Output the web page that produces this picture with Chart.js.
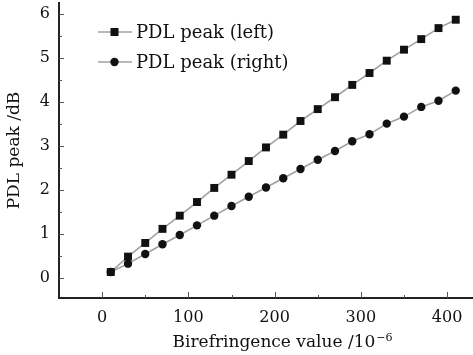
<!DOCTYPE html>
<html>
<head>
<meta charset="utf-8">
<script src="https://cdn.jsdelivr.net/npm/chart.js@4/dist/chart.umd.min.js"></script>
<style>
  html, body { margin: 0; padding: 0; background: #fff; }
  #wrap { width: 473px; height: 355px; }
</style>
</head>
<body>
<div id="wrap"><canvas id="chart" width="473" height="355"></canvas></div>
<script>
// Birefringence values (x 10^-6)
const birefringence = [10, 30, 50, 70, 90, 110, 130, 150, 170, 190, 210,
  230, 250, 270, 290, 310, 330, 350, 370, 390, 410];

// PDL peak (dB) for the left and right peaks
const pdlLeft = [0.14, 0.49, 0.80, 1.12, 1.42, 1.73, 2.05, 2.35, 2.66, 2.97, 3.26,
  3.57, 3.84, 4.11, 4.39, 4.66, 4.94, 5.19, 5.43, 5.68, 5.87];
const pdlRight = [0.14, 0.33, 0.55, 0.77, 0.98, 1.20, 1.42, 1.64, 1.85, 2.06, 2.27,
  2.48, 2.69, 2.89, 3.11, 3.27, 3.51, 3.67, 3.89, 4.03, 4.26];

const xMajorTicks = [0, 100, 200, 300, 400];
const yMajorTicks = [0, 1, 2, 3, 4, 5, 6];

const X_TITLE = 'Birefringence value /10';
const X_TITLE_EXP = '−6';

const FONT = 'DejaVu Serif';
const LINE_COLOR = '#a0a0a0';
const MARK_COLOR = '#111';

function toPoints(xs, ys) {
  return xs.map((x, i) => ({ x, y: ys[i] }));
}

// Small tick marks pointing into the plot area, major and minor
const inwardTicks = {
  id: 'inwardTicks',
  afterDraw(chart) {
    const { ctx, scales: { x, y } } = chart;
    ctx.save();
    ctx.strokeStyle = '#555';
    ctx.lineWidth = 1;
    ctx.beginPath();
    for (let v = -50; v <= 430; v += 50) {
      const px = Math.round(x.getPixelForValue(v)) + 0.5;
      if (px <= x.left + 2) continue;
      const len = v % 100 === 0 ? 6 : 3;
      ctx.moveTo(px, y.bottom);
      ctx.lineTo(px, y.bottom - len);
    }
    for (let v = 0; v <= 6.2; v += 0.5) {
      const py = Math.round(y.getPixelForValue(v)) + 0.5;
      const len = Number.isInteger(v) ? 5 : 3;
      ctx.moveTo(x.left, py);
      ctx.lineTo(x.left + len, py);
    }
    ctx.stroke();
    ctx.restore();
  }
};

// x axis title with a raised exponent
const xTitle = {
  id: 'xTitle',
  afterDraw(chart) {
    const { ctx } = chart;
    ctx.save();
    ctx.fillStyle = '#111';
    ctx.textBaseline = 'alphabetic';
    ctx.textAlign = 'left';
    ctx.font = `17px "${FONT}"`;
    const w1 = ctx.measureText(X_TITLE).width;
    ctx.font = `11px "${FONT}"`;
    const w2 = ctx.measureText(X_TITLE_EXP).width;
    const x0 = 282 - (w1 + w2) / 2;
    ctx.font = `17px "${FONT}"`;
    ctx.fillText(X_TITLE, x0, 347);
    ctx.font = `11px "${FONT}"`;
    ctx.fillText(X_TITLE_EXP, x0 + w1 + 1, 341);
    ctx.restore();
  }
};

// Legend drawn inside the plot: line sample with marker, then label
const innerLegend = {
  id: 'innerLegend',
  afterDraw(chart) {
    const { ctx } = chart;
    const rows = [32, 62];
    ctx.save();
    chart.data.datasets.forEach((ds, i) => {
      const cy = rows[i];
      ctx.strokeStyle = LINE_COLOR;
      ctx.lineWidth = 1.5;
      ctx.beginPath();
      ctx.moveTo(98, cy);
      ctx.lineTo(132, cy);
      ctx.stroke();
      ctx.fillStyle = MARK_COLOR;
      if (ds.pointStyle === 'rect') {
        ctx.fillRect(110.5, cy - 4, 8, 8);
      } else {
        ctx.beginPath();
        ctx.arc(114.5, cy, 4.2, 0, Math.PI * 2);
        ctx.fill();
      }
      ctx.fillStyle = '#111';
      ctx.font = `18px "${FONT}"`;
      ctx.textBaseline = 'middle';
      ctx.textAlign = 'left';
      ctx.fillText(ds.label, 136, cy + 1);
    });
    ctx.restore();
  }
};

new Chart(document.getElementById('chart'), {
  type: 'scatter',
  data: {
    datasets: [
      {
        label: 'PDL peak (left)',
        data: toPoints(birefringence, pdlLeft),
        showLine: true,
        borderColor: LINE_COLOR,
        borderWidth: 1.6,
        pointStyle: 'rect',
        pointRadius: 5.6,
        pointBackgroundColor: MARK_COLOR,
        pointBorderColor: MARK_COLOR,
        pointBorderWidth: 0
      },
      {
        label: 'PDL peak (right)',
        data: toPoints(birefringence, pdlRight),
        showLine: true,
        borderColor: LINE_COLOR,
        borderWidth: 1.6,
        pointStyle: 'circle',
        pointRadius: 4.2,
        pointBackgroundColor: MARK_COLOR,
        pointBorderColor: MARK_COLOR,
        pointBorderWidth: 0
      }
    ]
  },
  options: {
    responsive: false,
    animation: false,
    layout: { autoPadding: false, padding: { top: 3, right: 0, left: 0, bottom: 0 } },
    plugins: {
      legend: { display: false },
      tooltip: { enabled: false }
    },
    scales: {
      x: {
        type: 'linear',
        min: -50,
        max: 430,
        afterBuildTicks(scale) {
          scale.ticks = xMajorTicks.map(v => ({ value: v }));
        },
        afterFit(scale) {
          scale.height = 57;
          scale.paddingLeft = 0;
          scale.paddingRight = 0;
        },
        grid: { display: false, drawTicks: false },
        border: { display: true, color: '#222', width: 2 },
        ticks: {
          color: '#111',
          padding: 10,
          maxRotation: 0,
          font: { family: FONT, size: 16 }
        }
      },
      y: {
        type: 'linear',
        min: -0.45,
        max: 6.25,
        afterBuildTicks(scale) {
          scale.ticks = yMajorTicks.map(v => ({ value: v }));
        },
        afterFit(scale) {
          scale.width = 59;
          scale.paddingTop = 0;
          scale.paddingBottom = 0;
        },
        grid: { display: false, drawTicks: false },
        border: { display: true, color: '#222', width: 2 },
        ticks: {
          color: '#111',
          padding: 9,
          font: { family: FONT, size: 16 }
        },
        title: {
          display: true,
          text: 'PDL peak /dB',
          color: '#111',
          font: { family: FONT, size: 17 },
          padding: { top: 4, bottom: 0 }
        }
      }
    }
  },
  plugins: [inwardTicks, xTitle, innerLegend]
});
</script>
</body>
</html>
